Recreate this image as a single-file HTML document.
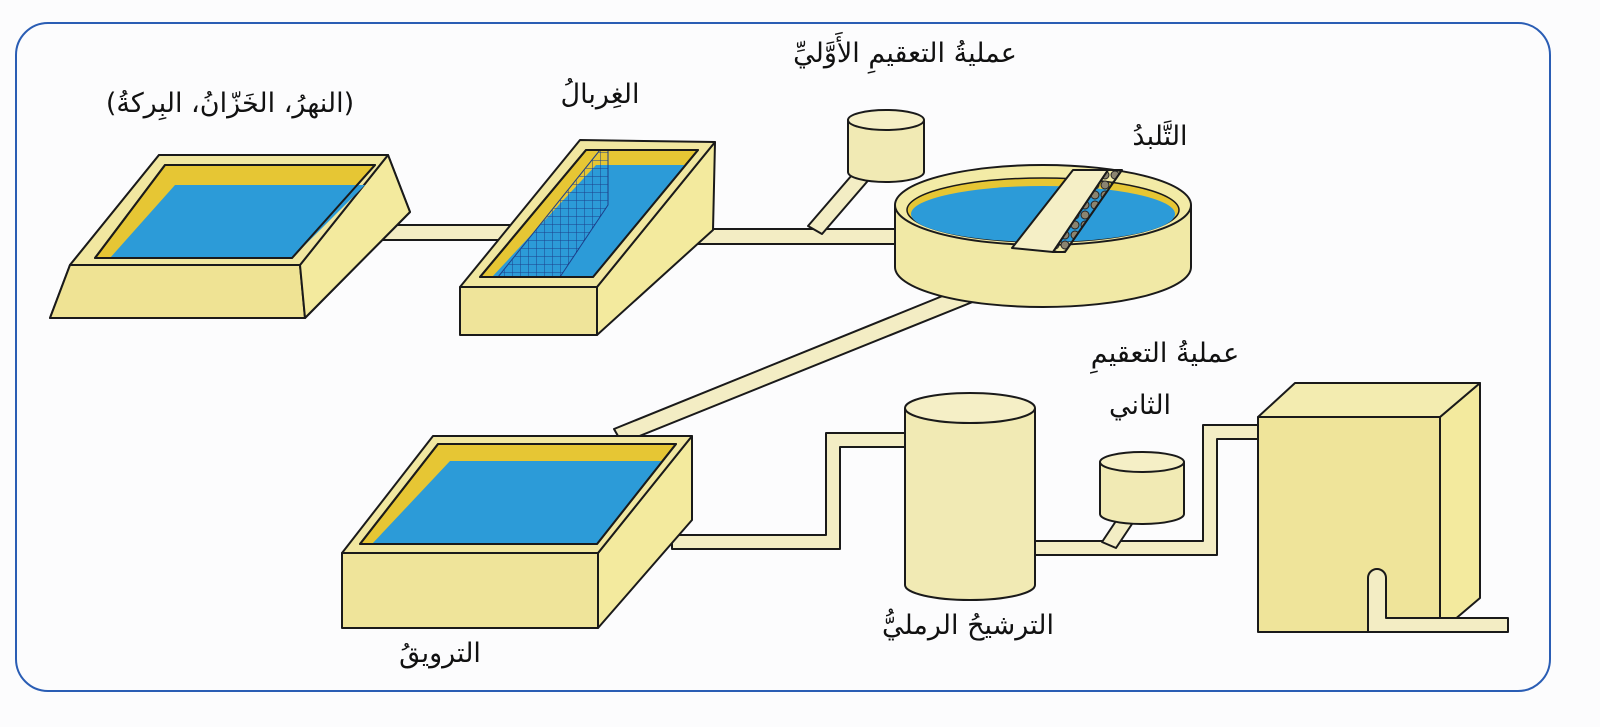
<!DOCTYPE html>
<html><head><meta charset="utf-8"><style>
html,body{margin:0;padding:0;background:#fcfcfd;}
svg{display:block}
text{font-family:"DejaVu Sans","Liberation Serif",serif;font-size:27px;fill:#111;}
</style></head><body>
<svg width="1600" height="727" viewBox="0 0 1600 727" xmlns="http://www.w3.org/2000/svg">
<defs>
<pattern id="grid" width="8" height="8" patternUnits="userSpaceOnUse"><path d="M0 0H8M0 0V8" stroke="#1d3f8a" stroke-width="1" fill="none"/></pattern>
<pattern id="chain" width="10" height="10" patternUnits="userSpaceOnUse"><circle cx="5" cy="5" r="4" fill="#8b8470" stroke="#222" stroke-width="1"/></pattern>
</defs>
<rect x="16" y="23" width="1534" height="668" rx="32" fill="none" stroke="#2a5db4" stroke-width="2"/>
<g stroke="#1a1a1a" stroke-width="2" stroke-linejoin="round">
<!-- pipes -->
<g fill="#f3edc4">
<rect x="365" y="225" width="145" height="15"/>
<rect x="640" y="229" width="260" height="15"/>
<polygon points="858,168 872,176 822,234 808,226"/>
<polygon points="982,280 990,295 622,443 614,429"/>
<path d="M672 535 H826 V433 H910 V447 H840 V549 H672 Z"/>
<path d="M1030 541 H1203 V425 H1265 V439 H1217 V555 H1030 Z"/>
<polygon points="1122,512 1136,518 1116,548 1102,542"/>
</g>
<!-- left basin -->
<polygon points="159,155 388,155 410,212 305,318 50,318 70,265" fill="#f1e7a0"/>
<polygon points="70,265 300,265 305,318 50,318" fill="#efe394"/>
<polygon points="300,265 388,155 410,212 305,318" fill="#f3ea9e"/>
<polygon points="159,155 388,155 300,265 70,265" fill="#f1e7a0"/>
<polygon points="165,165 375,165 292,258 95,258" fill="#e6c634"/>
<polygon points="175,185 365,185 292,258 110,258" fill="#2c9bd8" stroke="none"/>
<polygon points="165,165 375,165 292,258 95,258" fill="none"/>
<!-- screen basin -->
<polygon points="460,287 597,287 597,335 460,335" fill="#efe49a"/>
<polygon points="597,287 715,142 713,230 597,335" fill="#f3ea9e"/>
<polygon points="580,140 715,142 597,287 460,287" fill="#f1e7a0"/>
<polygon points="586,150 698,150 593,277 480,277" fill="#e6c634"/>
<polygon points="596,165 686,165 593,277 492,277" fill="#2c9bd8" stroke="none"/>
<polygon points="600,150 608,150 608,205 560,277 498,277" fill="url(#grid)" stroke="#1d3f8a" stroke-width="1"/>
<polygon points="586,150 698,150 593,277 480,277" fill="none"/>
<!-- tank 1 -->
<path d="M848 120 V172 A38 10 0 0 0 924 172 V120" fill="#f1eab4"/>
<ellipse cx="886" cy="120" rx="38" ry="10" fill="#f5efc6"/>
<!-- clarifier -->
<path d="M895 205 V267 A148 40 0 0 0 1191 267 V205" fill="#f1e9a6"/>
<ellipse cx="1043" cy="205" rx="148" ry="40" fill="#f3eba6"/>
<ellipse cx="1043" cy="210" rx="136" ry="32" fill="#e6c634" stroke-width="1.5"/>
<ellipse cx="1043" cy="214" rx="132" ry="28" fill="#2c9bd8" stroke="none"/>
<polygon points="1073,170 1108,170 1053,252 1012,248" fill="#f5efc6"/>
<polygon points="1108,170 1122,170 1065,252 1053,252" fill="url(#chain)"/>
<!-- settling basin -->
<polygon points="342,553 598,553 598,628 342,628" fill="#efe49a"/>
<polygon points="598,553 692,436 692,520 598,628" fill="#f3ea9e"/>
<polygon points="433,436 692,436 598,553 342,553" fill="#f1e7a0"/>
<polygon points="438,444 676,444 597,544 360,544" fill="#e6c634"/>
<polygon points="450,461 662,461 597,544 372,544" fill="#2c9bd8" stroke="none"/>
<polygon points="438,444 676,444 597,544 360,544" fill="none"/>
<!-- sand filter -->
<path d="M905 408 V585 A65 15 0 0 0 1035 585 V408" fill="#f1eab4"/>
<ellipse cx="970" cy="408" rx="65" ry="15" fill="#f5efc6"/>
<!-- tank 2 -->
<path d="M1100 462 V514 A42 10 0 0 0 1184 514 V462" fill="#f1eab4"/>
<ellipse cx="1142" cy="462" rx="42" ry="10" fill="#f5efc6"/>
<!-- big box -->
<polygon points="1258,417 1440,417 1440,632 1258,632" fill="#efe49a"/>
<polygon points="1440,417 1480,383 1480,598 1440,632" fill="#f3ea9e"/>
<polygon points="1295,383 1480,383 1440,417 1258,417" fill="#f3ecb0"/>
<path d="M1368 578 A9 9 0 0 1 1386 578 V618 H1508 V632 H1368 Z" fill="#f3edc4"/>
</g>
<g text-anchor="middle" direction="rtl">
<text x="230" y="112">(النهرُ، الخَزّانُ، البِركةُ)</text>
<text x="600" y="103">الغِربالُ</text>
<text x="905" y="62">عمليةُ التعقيمِ الأَوَّليِّ</text>
<text x="1160" y="145">التَّلبدُ</text>
<text x="1165" y="362">عمليةُ التعقيمِ</text>
<text x="1140" y="414">الثاني</text>
<text x="968" y="634">الترشيحُ الرمليُّ</text>
<text x="440" y="662">الترويقُ</text>
</g>
</svg>
</body></html>
